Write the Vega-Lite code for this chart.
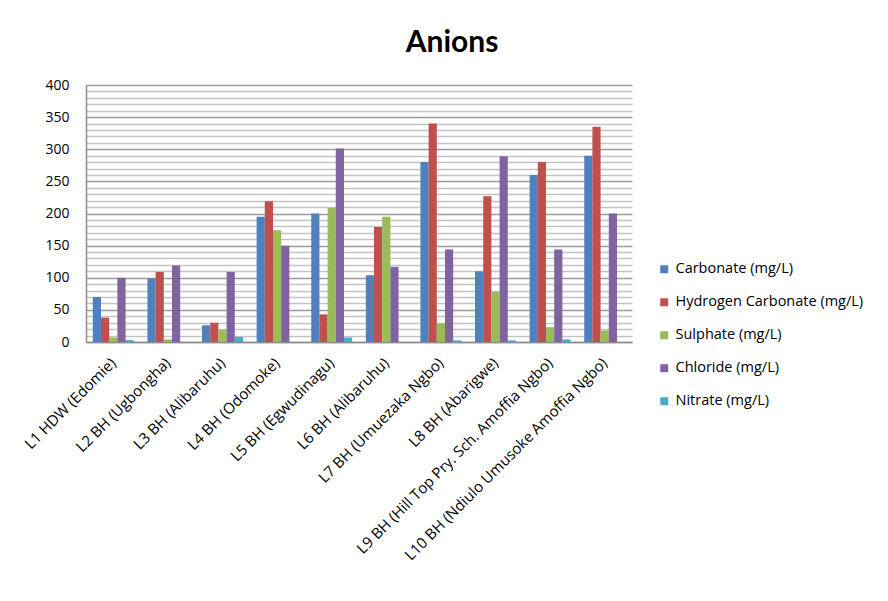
{
  "$schema": "https://vega.github.io/schema/vega-lite/v6.json",
  "autosize": "none",
  "width": 546,
  "height": 257,
  "padding": {"left": 86, "top": 85, "right": 256, "bottom": 259},
  "background": "white",
  "title": {
    "text": "Anions",
    "font": "Lato",
    "fontSize": 30,
    "fontWeight": "bold",
    "color": "#000000",
    "anchor": "middle",
    "dx": 93,
    "offset": 20
  },
  "data": {
    "values": [
      {"site": "L1 HDW (Edomie)", "anion": "Carbonate (mg/L)", "value": 70},
      {"site": "L1 HDW (Edomie)", "anion": "Hydrogen Carbonate  (mg/L)", "value": 38},
      {"site": "L1 HDW (Edomie)", "anion": "Sulphate (mg/L)", "value": 7},
      {"site": "L1 HDW (Edomie)", "anion": "Chloride (mg/L)", "value": 100},
      {"site": "L1 HDW (Edomie)", "anion": "Nitrate (mg/L)", "value": 3},
      {"site": "L2 BH (Ugbongha)", "anion": "Carbonate (mg/L)", "value": 99},
      {"site": "L2 BH (Ugbongha)", "anion": "Hydrogen Carbonate  (mg/L)", "value": 109},
      {"site": "L2 BH (Ugbongha)", "anion": "Sulphate (mg/L)", "value": 4},
      {"site": "L2 BH (Ugbongha)", "anion": "Chloride (mg/L)", "value": 119},
      {"site": "L2 BH (Ugbongha)", "anion": "Nitrate (mg/L)", "value": 0},
      {"site": "L3 BH  (Alibaruhu)", "anion": "Carbonate (mg/L)", "value": 26},
      {"site": "L3 BH  (Alibaruhu)", "anion": "Hydrogen Carbonate  (mg/L)", "value": 30},
      {"site": "L3 BH  (Alibaruhu)", "anion": "Sulphate (mg/L)", "value": 19},
      {"site": "L3 BH  (Alibaruhu)", "anion": "Chloride (mg/L)", "value": 109},
      {"site": "L3 BH  (Alibaruhu)", "anion": "Nitrate (mg/L)", "value": 8},
      {"site": "L4 BH (Odomoke)", "anion": "Carbonate (mg/L)", "value": 195},
      {"site": "L4 BH (Odomoke)", "anion": "Hydrogen Carbonate  (mg/L)", "value": 219},
      {"site": "L4 BH (Odomoke)", "anion": "Sulphate (mg/L)", "value": 174},
      {"site": "L4 BH (Odomoke)", "anion": "Chloride (mg/L)", "value": 150},
      {"site": "L4 BH (Odomoke)", "anion": "Nitrate (mg/L)", "value": 0},
      {"site": "L5 BH (Egwudinagu)", "anion": "Carbonate (mg/L)", "value": 200},
      {"site": "L5 BH (Egwudinagu)", "anion": "Hydrogen Carbonate  (mg/L)", "value": 43},
      {"site": "L5 BH (Egwudinagu)", "anion": "Sulphate (mg/L)", "value": 209},
      {"site": "L5 BH (Egwudinagu)", "anion": "Chloride (mg/L)", "value": 301},
      {"site": "L5 BH (Egwudinagu)", "anion": "Nitrate (mg/L)", "value": 7},
      {"site": "L6 BH (Alibaruhu)", "anion": "Carbonate (mg/L)", "value": 104},
      {"site": "L6 BH (Alibaruhu)", "anion": "Hydrogen Carbonate  (mg/L)", "value": 179},
      {"site": "L6 BH (Alibaruhu)", "anion": "Sulphate (mg/L)", "value": 195},
      {"site": "L6 BH (Alibaruhu)", "anion": "Chloride (mg/L)", "value": 117},
      {"site": "L6 BH (Alibaruhu)", "anion": "Nitrate (mg/L)", "value": 0},
      {"site": "L7 BH (Umuezaka  Ngbo)", "anion": "Carbonate (mg/L)", "value": 280},
      {"site": "L7 BH (Umuezaka  Ngbo)", "anion": "Hydrogen Carbonate  (mg/L)", "value": 340},
      {"site": "L7 BH (Umuezaka  Ngbo)", "anion": "Sulphate (mg/L)", "value": 29},
      {"site": "L7 BH (Umuezaka  Ngbo)", "anion": "Chloride (mg/L)", "value": 144},
      {"site": "L7 BH (Umuezaka  Ngbo)", "anion": "Nitrate (mg/L)", "value": 2.6},
      {"site": "L8 BH (Abarigwe)", "anion": "Carbonate (mg/L)", "value": 110},
      {"site": "L8 BH (Abarigwe)", "anion": "Hydrogen Carbonate  (mg/L)", "value": 227},
      {"site": "L8 BH (Abarigwe)", "anion": "Sulphate (mg/L)", "value": 78},
      {"site": "L8 BH (Abarigwe)", "anion": "Chloride (mg/L)", "value": 289},
      {"site": "L8 BH (Abarigwe)", "anion": "Nitrate (mg/L)", "value": 2.6},
      {"site": "L9 BH (Hill Top Pry. Sch. Amoffia Ngbo)", "anion": "Carbonate (mg/L)", "value": 260},
      {"site": "L9 BH (Hill Top Pry. Sch. Amoffia Ngbo)", "anion": "Hydrogen Carbonate  (mg/L)", "value": 280},
      {"site": "L9 BH (Hill Top Pry. Sch. Amoffia Ngbo)", "anion": "Sulphate (mg/L)", "value": 23},
      {"site": "L9 BH (Hill Top Pry. Sch. Amoffia Ngbo)", "anion": "Chloride (mg/L)", "value": 144},
      {"site": "L9 BH (Hill Top Pry. Sch. Amoffia Ngbo)", "anion": "Nitrate (mg/L)", "value": 4},
      {"site": "L10 BH (Ndiulo Umusoke Amoffia Ngbo)", "anion": "Carbonate (mg/L)", "value": 290},
      {"site": "L10 BH (Ndiulo Umusoke Amoffia Ngbo)", "anion": "Hydrogen Carbonate  (mg/L)", "value": 335},
      {"site": "L10 BH (Ndiulo Umusoke Amoffia Ngbo)", "anion": "Sulphate (mg/L)", "value": 18},
      {"site": "L10 BH (Ndiulo Umusoke Amoffia Ngbo)", "anion": "Chloride (mg/L)", "value": 200},
      {"site": "L10 BH (Ndiulo Umusoke Amoffia Ngbo)", "anion": "Nitrate (mg/L)", "value": 0}
    ]
  },
  "mark": {"type": "bar"},
  "encoding": {
    "x": {
      "field": "site",
      "type": "nominal",
      "sort": null,
      "title": null,
      "scale": {"paddingInner": 0.25, "paddingOuter": 0.125},
      "axis": {
        "labelAngle": -45,
        "labelAlign": "right",
        "labelBaseline": "middle",
        "labelFont": "Open Sans",
        "labelFontSize": 15,
        "labelColor": "#000000",
        "labelPadding": 18,
        "labelLimit": 400,
        "ticks": false,
        "domainColor": "#8c8c8c",
        "domainWidth": 1.5,
        "grid": false
      }
    },
    "xOffset": {
      "field": "anion",
      "type": "nominal",
      "sort": ["Carbonate (mg/L)", "Hydrogen Carbonate  (mg/L)", "Sulphate (mg/L)", "Chloride (mg/L)", "Nitrate (mg/L)"],
      "scale": {"paddingInner": 0, "paddingOuter": 0}
    },
    "y": {
      "field": "value",
      "type": "quantitative",
      "title": null,
      "scale": {"domain": [0, 400], "nice": false},
      "axis": {
        "values": [0, 10, 20, 30, 40, 50, 60, 70, 80, 90, 100, 110, 120, 130, 140, 150, 160, 170, 180, 190, 200, 210, 220, 230, 240, 250, 260, 270, 280, 290, 300, 310, 320, 330, 340, 350, 360, 370, 380, 390, 400],
        "labelExpr": "datum.value % 50 === 0 ? datum.label : ''",
        "labelFont": "Open Sans",
        "labelFontSize": 14,
        "labelColor": "#000000",
        "labelPadding": 17,
        "ticks": false,
        "domainColor": "#8c8c8c",
        "domainWidth": 1.5,
        "grid": true,
        "gridColor": {"condition": {"test": "datum.value % 50 === 0", "value": "#9a9a9a"}, "value": "#c4c4c4"},
        "gridWidth": 1.5
      }
    },
    "color": {
      "field": "anion",
      "type": "nominal",
      "title": null,
      "scale": {
        "domain": ["Carbonate (mg/L)", "Hydrogen Carbonate  (mg/L)", "Sulphate (mg/L)", "Chloride (mg/L)", "Nitrate (mg/L)"],
        "range": ["#4F81BD", "#C0504D", "#9BBB59", "#8064A2", "#4BACC6"]
      },
      "legend": {
        "orient": "none",
        "legendX": 571,
        "legendY": 177,
        "symbolType": "square",
        "symbolSize": 64,
        "symbolStrokeWidth": 0,
        "labelFont": "Open Sans",
        "labelFontSize": 14.5,
        "labelColor": "#000000",
        "labelOffset": 4,
        "labelLimit": 300,
        "rowPadding": 18
      }
    }
  },
  "config": {
    "view": {"stroke": null}
  }
}
